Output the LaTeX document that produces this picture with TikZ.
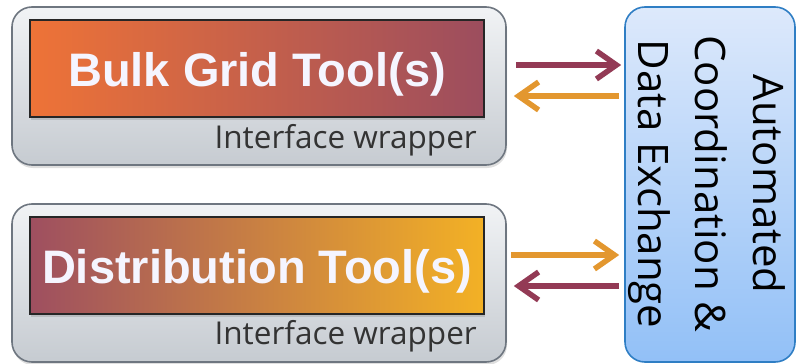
\documentclass[tikz,border=0pt]{standalone}
\usepackage{fontspec}
\setmainfont{Open Sans}
\newfontfamily\boldsans{Liberation Sans}
\usetikzlibrary{arrows.meta,shadows,calc}
\definecolor{arrpurple}{HTML}{933A55}
\definecolor{arrorange}{HTML}{E3972F}
\definecolor{greytop}{HTML}{F1F3F5}
\definecolor{greybot}{HTML}{C6CBD1}
\definecolor{greyedge}{HTML}{6E7680}
\definecolor{bluetop}{HTML}{DDE9FB}
\definecolor{bluebot}{HTML}{92C0F7}
\definecolor{blueedge}{HTML}{2F7EC4}
\definecolor{bulkleft}{HTML}{EE7337}
\definecolor{bulkright}{HTML}{9C4D5E}
\definecolor{distleft}{HTML}{9E4F60}
\definecolor{distmid}{HTML}{C47D45}
\definecolor{distright}{HTML}{F3B125}
\definecolor{wrapcol}{HTML}{333333}
\begin{document}
\begin{tikzpicture}[x=1pt,y=-1pt,
  wrapbox/.style={draw=greyedge, line width=1.6pt, rounded corners=20pt,
    top color=greytop, bottom color=greybot, minimum width=494pt, minimum height=158pt,
    inner sep=0pt, drop shadow={shadow xshift=1pt, shadow yshift=-3pt, opacity=0.25}},
  toolbox/.style={draw=black!85, line width=1.3pt, minimum width=454pt, minimum height=97pt,
    inner sep=0pt, text height=36pt, text depth=0pt, text=white!96!blue,
    font=\boldsans\bfseries\fontsize{47}{50}\selectfont,
    drop shadow={shadow xshift=1pt, shadow yshift=-3pt, opacity=0.3}},
  wraplabel/.style={anchor=base east, inner sep=0pt, text=wrapcol, font=\fontsize{31.5}{33}\selectfont},
  coordlabel/.style={anchor=base, rotate=-90, inner sep=0pt, text=black, font=\fontsize{42}{44}\selectfont},
  purplearrow/.style={draw=arrpurple, line width=5.5pt, -{Straight Barb[length=20pt, width=28pt]}},
  orangearrow/.style={draw=arrorange, line width=5.5pt, -{Straight Barb[length=20pt, width=28pt]}}
]
\useasboundingbox (0,0) rectangle (796,364);

% outer wrappers
\node[wrapbox] (outer1) at (259,86) {};
\node[wrapbox] (outer2) at (259,283) {};

% tool boxes
\node[toolbox, left color=bulkleft, right color=bulkright] (bulk) at (257,68.5) {Bulk Grid Tool(s)};
\node[toolbox, left color=distleft, middle color=distmid, right color=distright] (dist) at (257,265.5) {Distribution Tool(s)};

% wrapper labels
\node[wraplabel] (wrap1) at (477,148) {Interface wrapper};
\node[wraplabel] (wrap2) at (477,344) {Interface wrapper};

% coordination box
\node[draw=blueedge, line width=1.6pt, rounded corners=20pt, top color=bluetop, bottom color=bluebot,
  minimum width=170pt, minimum height=355pt, inner sep=0pt] (coord) at (710,184.5) {};
\node[coordlabel] (c1) at (753,184) {Automated};
\node[coordlabel] (c2) at (695,184) {Coordination \&};
\node[coordlabel] (c3) at (638,184) {Data Exchange};

% arrows
\draw[purplearrow] ([xshift=9pt,yshift=21pt]outer1.east) -- ([xshift=-3pt,yshift=21pt]outer1.east -| coord.west);
\draw[orangearrow] ([xshift=-5pt,yshift=-10pt]outer1.east -| coord.west) -- ([xshift=7pt,yshift=-10pt]outer1.east);
\draw[orangearrow] ([xshift=4pt,yshift=28pt]outer2.east) -- ([xshift=-5pt,yshift=28pt]outer2.east -| coord.west);
\draw[purplearrow] ([xshift=-5pt,yshift=-3pt]outer2.east -| coord.west) -- ([xshift=7pt,yshift=-3pt]outer2.east);
\end{tikzpicture}
\end{document}
